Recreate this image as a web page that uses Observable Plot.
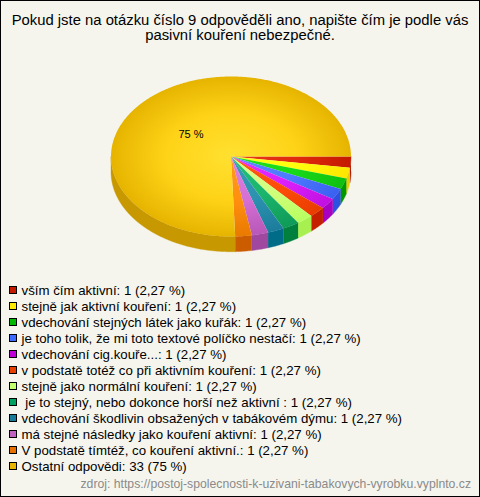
<!DOCTYPE html>
<html><head><meta charset="utf-8">
<script src="https://cdn.jsdelivr.net/npm/d3@7"></script>
<script src="https://cdn.jsdelivr.net/npm/@observablehq/plot@0.6"></script>
<style>
html,body{margin:0;padding:0;background:#f5f5ee}
#box{position:relative;width:480px;height:497px;box-sizing:border-box;border:1px solid #000;background:#f5f5ee;overflow:hidden}
#title{position:absolute;left:0;top:12px;width:478px;text-align:center;font:14.83px/15px "Liberation Sans",Arial,sans-serif;color:#000;white-space:nowrap}
#chart{position:absolute;left:0;top:0}
#legend{position:absolute;left:8px;top:282px;font:13.27px/16px "Liberation Sans",Arial,sans-serif;color:#000;white-space:nowrap}
#legend div{height:16px;position:relative;padding-left:12.5px}
#legend i{position:absolute;left:0;top:3px;width:6px;height:6px;border:1px solid #000;box-sizing:content-box}
#src{position:absolute;right:8px;top:475px;font:12.23px/16px "Liberation Sans",Arial,sans-serif;color:#8a8a8a;white-space:nowrap}
</style></head><body>
<div id="box">
<div id="chart"></div>
<div id="title">Pokud jste na otázku číslo 9 odpověděli ano, napište čím je podle vás<br>pasivní kouření nebezpečné.</div>
<div id="legend"></div>
<div id="src">zdroj: https://postoj-spolecnosti-k-uzivani-tabakovych-vyrobku.vyplnto.cz</div>
</div>
<script>
const labels=["vším čím aktivní","stejně jak aktivní kouření","vdechování stejných látek jako kuřák","je toho tolik, že mi toto textové políčko nestačí","vdechování cig.kouře...","v podstatě totéž co při aktivním kouření","stejně jako normální kouření"," je to stejný, nebo dokonce horší než aktivní ","vdechování škodlivin obsažených v tabákovém dýmu","má stejné následky jako kouření aktivní","V podstatě tímtéž, co kouření aktivní.","Ostatní odpovědi"];
const counts=[1,1,1,1,1,1,1,1,1,1,1,33];
const shares=["2,27","2,27","2,27","2,27","2,27","2,27","2,27","2,27","2,27","2,27","2,27","75"];
const swatch=["#c41a00","#ffea00","#00b800","#3d6bff","#c000d8","#e84000","#c4ff70","#00a060","#1a7a9a","#c060c0","#e87000","#e8b400"];
const inner=["#e83a1a","#ffff1a","#20e020","#5c8cff","#e430ff","#ff5a14","#d8ff90","#25c078","#3a9ab4","#e080e0","#ff9a20","#ffe030"];
const outer=["#c41a00","#ffe600","#10c010","#3a60f0","#c010e0","#e83c00","#b8ff60","#0f9a58","#1c7c9c","#b858b8","#ea7a00","#e6b400"];
const side=["#b81800","#e8d000","#009800","#2c50e0","#a800c0","#c42000","#a8f050","#00803c","#006c88","#a048a0","#cc5c00","#c89800"];

const rad=Math.PI/180, depth=0.19;
const total=d3.sum(counts);
// sweeps are whole degrees, as in the source renderer; the last slice closes the circle
const arcs=[];let acc=0;
counts.forEach((c,i)=>{const sweep=i===counts.length-1?360-acc:Math.round(c/total*360);
  arcs.push({i,a0:acc*rad,a1:(acc+sweep)*rad});acc+=sweep;});
function ring(a0,a1){const n=Math.max(2,Math.ceil((a1-a0)/0.01));return d3.range(n+1).map(k=>a0+(a1-a0)*k/n);}
const topRows=[],sideRows=[];
for(const {i,a0,a1} of arcs){
  topRows.push({i,x:0,y:0});
  for(const a of ring(a0,a1))topRows.push({i,x:Math.cos(a),y:-Math.sin(a)});
  const s0=Math.max(a0,0),s1=Math.min(a1,Math.PI);
  if(s1>s0){
    const r=ring(s0,s1);
    for(const a of r)sideRows.push({i,x:Math.cos(a),y:-Math.sin(a)});
    for(const a of r.slice().reverse())sideRows.push({i,x:Math.cos(a),y:-Math.sin(a)-depth});
  }
}
const lab=arcs[11];const mid=(lab.a0+lab.a1)/2;
const marks=[];
for(const {i} of arcs){
  const sr=sideRows.filter(d=>d.i===i);
  if(sr.length)marks.push(Plot.line(sr,{x:"x",y:"y",fill:side[i],stroke:side[i],strokeWidth:0.4,curve:"linear"}));
}
for(const {i} of arcs){
  marks.push(Plot.line(topRows.filter(d=>d.i===i),{x:"x",y:"y",fill:`url(#g${i})`,stroke:"none",curve:"linear"}));
}
marks.push(Plot.text(["75 %"],{x:[Math.cos(mid)*0.44],y:[-Math.sin(mid)*0.44],dx:-2,dy:2,text:d=>d,fontSize:11,fontFamily:"Liberation Sans",fill:"#000"}));
const W=478,H=280;
const plot=Plot.plot({width:W,height:H,margin:0,style:{background:"transparent"},
  x:{domain:[-229.5/120,(W-229.5)/120],axis:null},
  y:{domain:[(155-H)/80,155/80],axis:null,reverse:false},
  marks});
const ns="http://www.w3.org/2000/svg";
const defs=document.createElementNS(ns,"defs");
inner.forEach((c,i)=>{
  const g=document.createElementNS(ns,"radialGradient");
  g.setAttribute("id","g"+i);g.setAttribute("gradientUnits","userSpaceOnUse");
  g.setAttribute("cx",0);g.setAttribute("cy",0);g.setAttribute("r",1);
  g.setAttribute("gradientTransform","translate(229.5 155) scale(120 80)");
  const midCol=d3.color(d3.interpolateRgb(c,outer[i])(0.55)).brighter(0.15).formatHex();
  [[0,c],[0.55,midCol],[1,outer[i]]].forEach(([o,col])=>{const s=document.createElementNS(ns,"stop");s.setAttribute("offset",o);s.setAttribute("stop-color",col);g.appendChild(s);});
  defs.appendChild(g);
});
plot.insertBefore(defs,plot.firstChild);
document.getElementById("chart").appendChild(plot);
const lg=document.getElementById("legend");
labels.forEach((l,i)=>{const d=document.createElement("div");d.style.whiteSpace="pre";
  const sw=document.createElement("i");sw.style.background=swatch[i];d.appendChild(sw);
  d.appendChild(document.createTextNode(`${l}: ${counts[i]} (${shares[i]} %)`));lg.appendChild(d);});
</script></body></html>
